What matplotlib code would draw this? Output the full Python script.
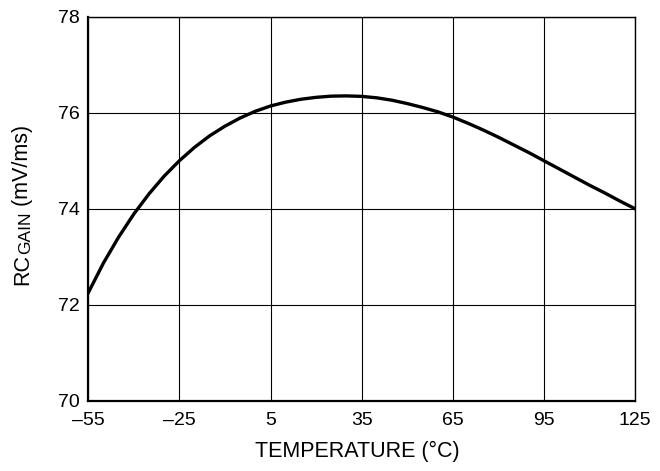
import matplotlib
matplotlib.use("Agg")
import matplotlib.pyplot as plt

plt.rcParams['font.family'] = ['Liberation Sans', 'DejaVu Sans']

temperature = [-55, -50, -45, -40, -35, -30, -25, -20, -15, -10, -5, 0, 5, 10, 15, 20,
               25, 30, 35, 40, 45, 50, 55, 60, 65, 70, 75, 80, 85, 90, 95, 100,
               105, 110, 115, 120, 125]
rc_gain = [72.25, 72.87, 73.41, 73.89, 74.31, 74.68, 75.00, 75.28, 75.52, 75.72, 75.89,
           76.03, 76.14, 76.22, 76.28, 76.32, 76.345, 76.35, 76.34, 76.31, 76.26, 76.19,
           76.11, 76.02, 75.91, 75.78, 75.64, 75.49, 75.33, 75.17, 75.00, 74.83, 74.66,
           74.49, 74.33, 74.16, 74.00]

x_ticks = [-55, -25, 5, 35, 65, 95, 125]
x_ticklabels = ['\u201355', '\u201325', '5', '35', '65', '95', '125']
y_ticks = [70, 72, 74, 76, 78]
y_ticklabels = ['70', '72', '74', '76', '78']

W, H = 660, 471
fig = plt.figure(figsize=(W / 100, H / 100), dpi=100)
ax = fig.add_axes([88.3 / W, 1 - 400.7 / H, (635 - 88.3) / W, (400.7 - 16.7) / H])

ax.plot(temperature, rc_gain, color='black', lw=2.4, solid_joinstyle='round', zorder=3)

ax.set_xlim(-55, 125)
ax.set_ylim(70, 78)
ax.set_xticks(x_ticks)
ax.set_xticklabels(x_ticklabels)
ax.set_yticks(y_ticks)
ax.set_yticklabels(y_ticklabels)
ax.tick_params(axis='both', length=0, labelsize=14, colors='black')
ax.tick_params(axis='x', pad=8)
ax.tick_params(axis='y', pad=6)
ax.grid(True, color='black', lw=0.8)
ax.set_axisbelow(True)

for side in ['left', 'bottom']:
    ax.spines[side].set_linewidth(1.6)
for side in ['top', 'right']:
    ax.spines[side].set_linewidth(1.0)

# x-axis label
fig.text(357 / W, (H - 456.5) / H, 'TEMPERATURE (\u00b0C)', fontsize=15.5,
         ha='center', va='baseline')

# y-axis label: RC with subscript GAIN, then (mV/ms), rotated
renderer = fig.canvas.get_renderer()
pieces = [('RC', 15.5, 0.0), ('GAIN', 12.5, 2.0), (' (mV/ms)', 15.5, 0.0)]
base_x = 28.0
texts = []
lengths = []
for s, fs, dx in pieces:
    t = fig.text(0, 0, s, fontsize=fs, rotation=90, rotation_mode='anchor',
                 ha='left', va='baseline')
    texts.append((t, dx))
    lengths.append(t.get_window_extent(renderer).height)
total = sum(lengths)
center_disp = H - 205.0
y_disp = center_disp - total / 2
for (t, dx), ln in zip(texts, lengths):
    t.set_position(((base_x + dx) / W, y_disp / H))
    y_disp += ln

fig.savefig('out.png', dpi=100)
